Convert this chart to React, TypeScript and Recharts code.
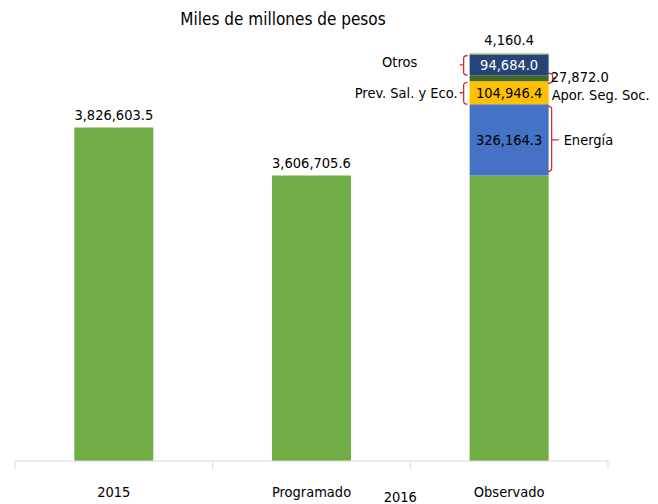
import { BarChart, Bar, XAxis, YAxis, LabelList } from 'recharts';

const categories = ['2015', 'Programado', 'Observado'];
const baseValues = [3826603.5, 3606705.6, 3606705.6];
const energiaValues = [0, 0, 326164.3];
const prevValues = [0, 0, 104946.4];
const aporValues = [0, 0, 27872.0];
const otrosValues = [0, 0, 94684.0];
const restoValues = [0, 0, 4160.4];
const groupLabel = '2016';
const title = 'Miles de millones de pesos';

const W = 658;
const H = 504;
const margin = { top: 24, right: 50, left: 15, bottom: 0 };
const xAxisHeight = 43;
const plotBottom = H - margin.bottom - xAxisHeight;
const band = (W - margin.left - margin.right) / categories.length;

const FONT = "'Liberation Sans Narrow', 'DejaVu Sans Condensed', sans-serif";
const FS = 14.5;
const RED = '#D22B2B';

const table = categories.map((category, i) => ({
  category,
  base: baseValues[i],
  energia: energiaValues[i],
  prev: prevValues[i],
  apor: aporValues[i],
  otros: otrosValues[i],
  resto: restoValues[i],
}));

const fmt = (v: number) =>
  v.toLocaleString('en-US', { minimumFractionDigits: 1, maximumFractionDigits: 1 });

function CategoryTick(props: any) {
  const { x, payload, index } = props;
  const left = x - band / 2;
  return (
    <g>
      <line x1={left} y1={plotBottom} x2={left} y2={plotBottom + 8} stroke="#D9D9D9" />
      {index === categories.length - 1 && (
        <line x1={x + band / 2} y1={plotBottom} x2={x + band / 2} y2={plotBottom + 8} stroke="#D9D9D9" />
      )}
      <text x={x} y={plotBottom + 36} textAnchor="middle" fontSize={FS} fill="#000" fontFamily={FONT}>
        {payload.value}
      </text>
      {index === 1 && (
        <text x={x + band / 2 - 10} y={plotBottom + 41} textAnchor="middle" fontSize={FS} fill="#000" fontFamily={FONT}>
          {groupLabel}
        </text>
      )}
    </g>
  );
}

const baseLabel = (p: any) => {
  if (restoValues[p.index] !== 0) return null;
  return (
    <text x={p.x + p.width / 2} y={p.y - 7} textAnchor="middle" fontSize={FS} fill="#000" fontFamily={FONT}>
      {fmt(p.value)}
    </text>
  );
};

const energiaLabel = (p: any) => {
  if (!p.value) return null;
  const { x, y, width, height } = p;
  const r = x + width + 3;
  const mid = y + height / 2;
  return (
    <g fontFamily={FONT} fontSize={FS}>
      <text x={x + width / 2} y={mid} textAnchor="middle" dominantBaseline="central" fill="#000">
        {fmt(p.value)}
      </text>
      <path
        d={`M ${x + width - 1} ${y + 2} Q ${r} ${y + 2} ${r} ${y + 5} V ${y + height - 7} Q ${r} ${y + height - 4} ${x + width - 1} ${y + height - 4} M ${r} ${mid} H ${r + 7}`}
        stroke={RED}
        fill="none"
        strokeWidth={1.3}
      />
      <text x={r + 12} y={mid} dominantBaseline="central" fill="#000">Energía</text>
    </g>
  );
};

const leftBracket = (x: number, y: number, height: number) => {
  const l = x - 6;
  const mid = y + height / 2;
  return (
    <path
      d={`M ${x - 2} ${y + 1} Q ${l} ${y + 1} ${l} ${y + 4} V ${y + height - 3} Q ${l} ${y + height} ${x - 2} ${y + height} M ${l} ${mid} H ${l - 4}`}
      stroke={RED}
      fill="none"
      strokeWidth={1.3}
    />
  );
};

const prevLabel = (p: any) => {
  if (!p.value) return null;
  const { x, y, width, height } = p;
  const mid = y + height / 2;
  return (
    <g fontFamily={FONT} fontSize={FS}>
      <text x={x + width / 2} y={mid} textAnchor="middle" dominantBaseline="central" fill="#000">
        {fmt(p.value)}
      </text>
      {leftBracket(x, y, height)}
      <text x={x - 12} y={mid} textAnchor="end" dominantBaseline="central" fill="#000">Prev. Sal. y Eco.</text>
    </g>
  );
};

const otrosLabel = (p: any) => {
  if (!p.value) return null;
  const { x, y, width, height } = p;
  const mid = y + height / 2;
  return (
    <g fontFamily={FONT} fontSize={FS}>
      <text x={x + width / 2} y={mid} textAnchor="middle" dominantBaseline="central" fill="#fff">
        {fmt(p.value)}
      </text>
      {leftBracket(x, y, height)}
      <text x={x - 70} y={mid - 3} textAnchor="middle" dominantBaseline="central" fill="#000">Otros</text>
    </g>
  );
};

const aporLabel = (p: any) => {
  if (!p.value) return null;
  const { x, y, width, height } = p;
  const r = x + width + 4;
  const mid = y + height / 2;
  return (
    <g fontFamily={FONT} fontSize={FS}>
      <path
        d={`M ${x + width - 1} ${y - 2} Q ${r} ${y - 2} ${r} ${y + 1} V ${y + height - 1} Q ${r} ${y + height + 2} ${x + width - 1} ${y + height + 2} M ${r} ${mid} H ${r + 3}`}
        stroke={RED}
        fill="none"
        strokeWidth={1.3}
      />
      <text x={r - 2} y={mid - 1} dominantBaseline="central" fill="#000">{fmt(p.value)}</text>
      <text x={r - 1} y={mid + 17} dominantBaseline="central" fill="#000">Apor. Seg. Soc.</text>
    </g>
  );
};

const restoLabel = (p: any) => {
  if (!p.value) return null;
  return (
    <text
      x={p.x + p.width / 2}
      y={p.y - 14}
      textAnchor="middle"
      dominantBaseline="central"
      fontSize={FS}
      fill="#000"
      fontFamily={FONT}
    >
      {fmt(p.value)}
    </text>
  );
};

export default function App() {
  return (
    <div style={{ position: 'absolute', left: 0, top: 0, width: W, height: H, background: '#fff', fontFamily: FONT }}>
      <div
        style={{
          position: 'absolute',
          left: 0,
          top: 9,
          width: 566,
          textAlign: 'center',
          fontSize: 17,
          color: '#000',
        }}
      >
        {title}
      </div>
      <BarChart width={W} height={H} data={table} margin={margin} barCategoryGap="30%">
        <XAxis
          dataKey="category"
          height={xAxisHeight}
          axisLine={{ stroke: '#D9D9D9' }}
          tickLine={false}
          tick={<CategoryTick />}
          interval={0}
        />
        <YAxis hide domain={[2300000, 4300000]} allowDataOverflow />
        <Bar dataKey="base" stackId="a" fill="#70AD47" isAnimationActive={false}>
          <LabelList dataKey="base" content={baseLabel} />
        </Bar>
        <Bar dataKey="energia" stackId="a" fill="#4472C4" isAnimationActive={false}>
          <LabelList dataKey="energia" content={energiaLabel} />
        </Bar>
        <Bar dataKey="prev" stackId="a" fill="#FFC000" isAnimationActive={false}>
          <LabelList dataKey="prev" content={prevLabel} />
        </Bar>
        <Bar dataKey="apor" stackId="a" fill="#43682B" isAnimationActive={false}>
          <LabelList dataKey="apor" content={aporLabel} />
        </Bar>
        <Bar dataKey="otros" stackId="a" fill="#264478" isAnimationActive={false}>
          <LabelList dataKey="otros" content={otrosLabel} />
        </Bar>
        <Bar dataKey="resto" stackId="a" fill="#70AD47" isAnimationActive={false}>
          <LabelList dataKey="resto" content={restoLabel} />
        </Bar>
      </BarChart>
    </div>
  );
}
